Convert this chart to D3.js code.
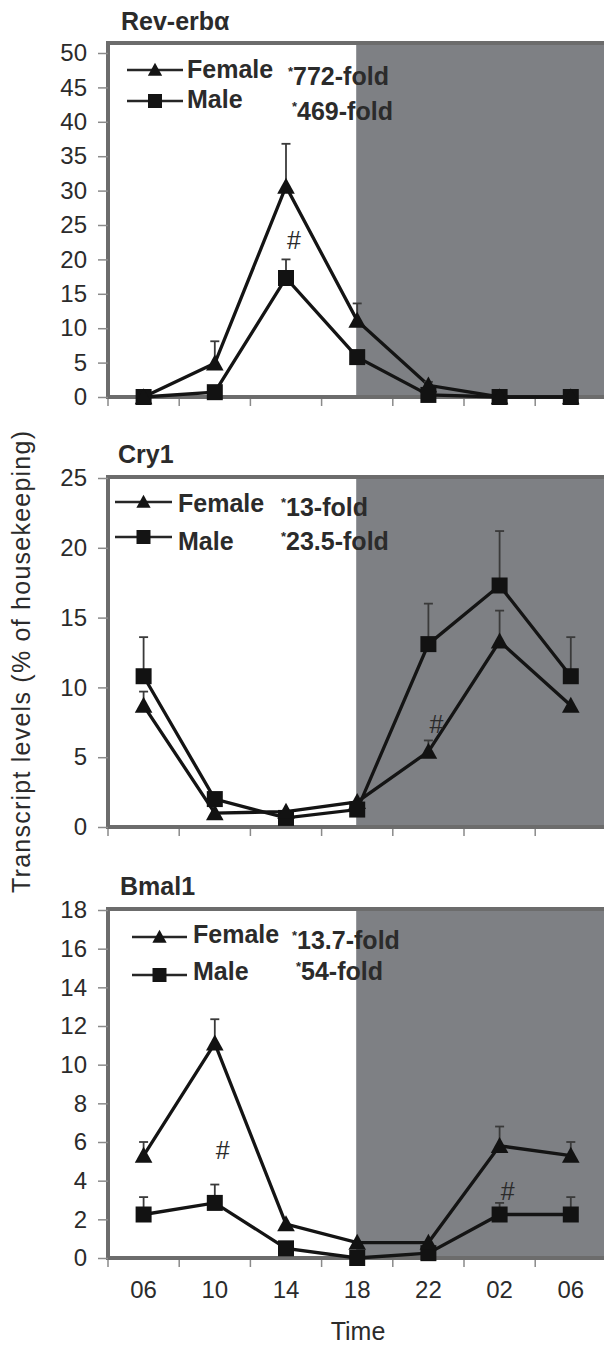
<!DOCTYPE html>
<html>
<head>
<meta charset="utf-8">
<script src="https://cdn.jsdelivr.net/npm/d3@7"></script>
<style>
  html, body { margin: 0; padding: 0; background: #fff; }
  svg { display: block; }
  text { font-family: "Liberation Sans", Arial, Helvetica, sans-serif; fill: #2b2b2b; }
</style>
</head>
<body>
<div id="chart"></div>
<script>
// ---------------- data ----------------
const timeLabels = ["06", "10", "14", "18", "22", "02", "06"];
const darkStartIndex = 3; // dark phase begins at 18:00

const revTitle = "Rev-erbα";
const revFemale    = [0, 4.9, 30.6, 11.1, 1.7, 0, 0];
const revFemaleErr = [0, 3.2, 6.2, 2.5, 0.5, 0, 0];
const revMale      = [0, 0.7, 17.3, 5.8, 0.3, 0, 0];
const revMaleErr   = [0, 0, 2.7, 0, 0, 0, 0];
const revTicks     = [0, 5, 10, 15, 20, 25, 30, 35, 40, 45, 50];
const revFold      = ["772-fold", "469-fold"];
const revHash      = [{ i: 2, v: 22.8 }];

const cryTitle = "Cry1";
const cryFemale    = [8.7, 1.0, 1.1, 1.8, 5.4, 13.3, 8.7];
const cryFemaleErr = [1.0, 0, 0, 0, 0.8, 2.2, 0];
const cryMale      = [10.8, 2.0, 0.65, 1.25, 13.1, 17.3, 10.8];
const cryMaleErr   = [2.8, 0.4, 0, 0, 2.9, 3.9, 2.8];
const cryTicks     = [0, 5, 10, 15, 20, 25];
const cryFold      = ["13-fold", "23.5-fold"];
const cryHash      = [{ i: 4, v: 7.4 }];

const bmalTitle = "Bmal1";
const bmalFemale    = [5.3, 11.1, 1.75, 0.8, 0.8, 5.8, 5.3];
const bmalFemaleErr = [0.7, 1.25, 0, 0, 0, 1.0, 0.7];
const bmalMale      = [2.25, 2.85, 0.5, 0.0, 0.25, 2.25, 2.25];
const bmalMaleErr   = [0.9, 0.95, 0, 0, 0, 0.6, 0.9];
const bmalTicks     = [0, 2, 4, 6, 8, 10, 12, 14, 16, 18];
const bmalFold      = ["13.7-fold", "54-fold"];
const bmalHash      = [{ i: 1, v: 5.6 }, { i: 5, v: 3.45 }];

const seriesNames = ["Female", "Male"];
const yAxisTitle = "Transcript levels (% of housekeeping)";
const xAxisTitle = "Time";

// ---------------- layout ----------------
const W = 604, H = 1345;
const plotLeft = 108, plotRight = 612;
const svg = d3.select("#chart").append("svg").attr("width", W).attr("height", H);

const x = d3.scaleBand().domain(d3.range(timeLabels.length)).range([108, 108 + 7 * 71.2]).paddingInner(0).paddingOuter(0);
const xc = i => x(i) + x.bandwidth() / 2;

const panels = [
  { title: revTitle, f: revFemale, fe: revFemaleErr, m: revMale, me: revMaleErr, ticks: revTicks, fold: revFold, hash: revHash,
    frameTop: 43, y0: 397, yTopPix: 53, titleX: 121, titleY: 30,
    leg: { x1: 127, x2: 183, tx: 187, fx: 288, rows: [70, 101], tb: [78, 108], fb: [85, 120] } },
  { title: cryTitle, f: cryFemale, fe: cryFemaleErr, m: cryMale, me: cryMaleErr, ticks: cryTicks, fold: cryFold, hash: cryHash,
    frameTop: 477, y0: 827, yTopPix: 478, titleX: 118, titleY: 463,
    leg: { x1: 115, x2: 172, tx: 178, fx: 281, rows: [502, 537], tb: [512, 550], fb: [516, 550] } },
  { title: bmalTitle, f: bmalFemale, fe: bmalFemaleErr, m: bmalMale, me: bmalMaleErr, ticks: bmalTicks, fold: bmalFold, hash: bmalHash,
    frameTop: 909, y0: 1258, yTopPix: 910, titleX: 120, titleY: 895,
    leg: { x1: 132, x2: 187, tx: 193, fx: 292, rows: [937, 975], tb: [943, 980], fb: [949, 980] } }
];

const triPath = (s) => `M0,${-s * 0.55}L${s * 0.55},${s * 0.45}L${-s * 0.55},${s * 0.45}Z`;
const sqPath = (s) => `M${-s / 2},${-s / 2}h${s}v${s}h${-s}Z`;

panels.forEach((p, pi) => {
  const g = svg.append("g");
  const yMax = d3.max(p.ticks);
  const y = d3.scaleLinear().domain([0, yMax]).range([p.y0, p.yTopPix]);

  // dark-phase shading
  g.append("rect")
    .attr("x", xc(darkStartIndex) - 1).attr("y", p.frameTop)
    .attr("width", plotRight - xc(darkStartIndex) + 1).attr("height", p.y0 - p.frameTop)
    .attr("fill", "#7e8084");

  // frame
  g.append("path")
    .attr("d", `M${plotRight},${p.frameTop}H${plotLeft}V${p.y0}H${plotRight}`)
    .attr("fill", "none").attr("stroke", "#6c6c6c").attr("stroke-width", 4);

  // y axis
  const ya = g.append("g").attr("transform", `translate(${plotLeft},0)`)
    .call(d3.axisLeft(y).tickValues(p.ticks).tickSize(10).tickPadding(11).tickFormat(d3.format("d")));
  ya.select(".domain").remove();
  ya.selectAll(".tick line").attr("stroke", "#8a8a8a").attr("stroke-width", 1.5);
  ya.selectAll(".tick text").attr("font-size", 24).attr("fill", "#333")
    .style("font-family", '"Liberation Sans", Arial, sans-serif');

  // x boundary ticks
  g.selectAll(".xt").data(d3.range(timeLabels.length + 1)).enter().append("line")
    .attr("x1", i => x.range()[0] + i * x.step()).attr("x2", i => x.range()[0] + i * x.step())
    .attr("y1", p.y0 + 2).attr("y2", p.y0 + 9)
    .attr("stroke", "#8a8a8a").attr("stroke-width", 1.5);

  // title
  g.append("text").attr("x", p.titleX).attr("y", p.titleY)
    .attr("font-size", 25).attr("font-weight", "bold").attr("fill", "#262626").text(p.title);

  // lines
  const line = d3.line().x((d, i) => xc(i)).y(d => y(d));
  [p.m, p.f].forEach(arr => {
    g.append("path").attr("d", line(arr)).attr("fill", "none")
      .attr("stroke", "#141414").attr("stroke-width", 3.3).attr("stroke-linejoin", "miter");
  });

  // error bars (upper)
  [[p.f, p.fe], [p.m, p.me]].forEach(([v, e]) => {
    const eg = g.append("g");
    v.forEach((d, i) => {
      if (!e[i]) return;
      const cx = xc(i);
      eg.append("line").attr("x1", cx).attr("x2", cx).attr("y1", y(d)).attr("y2", y(d + e[i]))
        .attr("stroke", "#3a3a3a").attr("stroke-width", 1.8);
      eg.append("line").attr("x1", cx - 4.5).attr("x2", cx + 4.5).attr("y1", y(d + e[i])).attr("y2", y(d + e[i]))
        .attr("stroke", "#3a3a3a").attr("stroke-width", 1.8);
    });
  });

  // markers
  g.selectAll(".sq").data(p.m).enter().append("path")
    .attr("transform", (d, i) => `translate(${xc(i)},${y(d)})`)
    .attr("d", sqPath(16)).attr("fill", "#121212");
  g.selectAll(".tri").data(p.f).enter().append("path")
    .attr("transform", (d, i) => `translate(${xc(i)},${y(d)})`)
    .attr("d", triPath(16)).attr("fill", "#121212");

  // significance hashes
  p.hash.forEach(h => {
    g.append("text").attr("x", xc(h.i) + 8).attr("y", y(h.v))
      .attr("dominant-baseline", "central").attr("text-anchor", "middle")
      .attr("font-size", 25).attr("fill", "#333").text("#");
  });

  // legend
  const L = p.leg;
  seriesNames.forEach((name, k) => {
    const ry = L.rows[k];
    g.append("line").attr("x1", L.x1).attr("x2", L.x2).attr("y1", ry).attr("y2", ry)
      .attr("stroke", "#262626").attr("stroke-width", 2.5);
    g.append("path").attr("transform", `translate(${(L.x1 + L.x2) / 2},${ry})`)
      .attr("d", k === 0 ? triPath(13) : sqPath(14)).attr("fill", "#141414");
    g.append("text").attr("x", L.tx).attr("y", L.tb[k])
      .attr("font-size", 25).attr("font-weight", "bold").attr("fill", "#262626").text(name);
    const ft = g.append("text").attr("x", L.fx + (k === 1 && pi !== 1 ? 4 : 0)).attr("y", L.fb[k])
      .attr("font-size", 25).attr("font-weight", "bold").attr("fill", "#262626");
    ft.append("tspan").attr("font-size", 13).attr("dy", -9).text("*");
    ft.append("tspan").attr("dy", 9).text(p.fold[k]);
  });

  // x labels on last panel
  if (pi === panels.length - 1) {
    const xa = g.append("g").attr("transform", `translate(0,${p.y0})`)
      .call(d3.axisBottom(x).tickSize(0).tickPadding(23).tickFormat(i => timeLabels[i]));
    xa.select(".domain").remove();
    xa.selectAll(".tick text").attr("font-size", 24).attr("fill", "#333")
      .style("font-family", '"Liberation Sans", Arial, sans-serif');
    g.append("text").attr("x", 358).attr("y", 1340).attr("text-anchor", "middle")
      .attr("font-size", 25).attr("fill", "#333").text(xAxisTitle);
  }
});

// y axis title
svg.append("text")
  .attr("transform", "translate(30,662) rotate(-90)")
  .attr("text-anchor", "middle")
  .attr("font-size", 25).attr("fill", "#3a3a3a")
  .attr("textLength", 462).attr("lengthAdjust", "spacing")
  .text(yAxisTitle);
</script>
</body>
</html>
